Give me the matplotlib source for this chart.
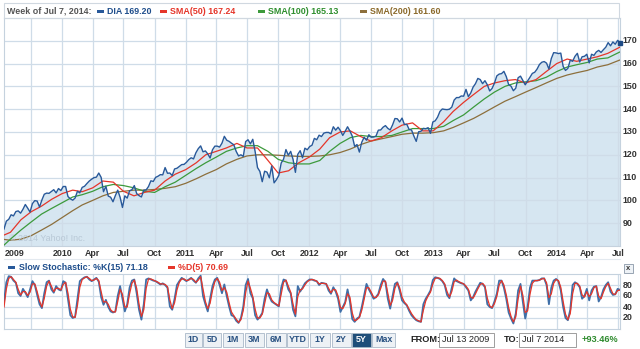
import matplotlib
matplotlib.use("Agg")
import matplotlib.pyplot as plt
import matplotlib.transforms as mtrans
import numpy as np
import pandas as pd
from matplotlib.patches import Rectangle

plt.rcParams['font.family'] = ['Liberation Sans', 'DejaVu Sans']

# ---------------- data ----------------
start_date = "2009-07-13"
dia = [
    87.46, 90.9, 91.7, 93.7, 93.2, 95.1, 95.4, 94.4, 96.1, 98.2, 96.6, 94.9, 98.6, 99.9, 99.7, 97.1,
    100.2, 102.7, 103.2, 103.1, 103.9, 104.7, 103.3, 105.2, 104.3,
    106.1, 106.1, 101.7, 100.7, 100.1, 101.0, 104.0, 103.3, 105.7, 106.2, 107.4, 108.5, 109.3,
    110.0, 110.2, 112.0, 110.1, 103.8, 106.2, 101.9, 101.4, 99.4, 102.1, 104.5, 101.4, 96.9,
    102.0, 101.0, 104.2, 104.7, 106.5, 103.0, 102.1, 101.5, 104.5, 104.6, 106.1, 108.6, 108.3,
    110.1, 110.6, 111.3, 111.2, 114.4, 111.9, 112.0, 110.9, 113.8, 114.1, 114.9, 115.7, 115.8,
    116.7, 117.9, 118.7, 118.2, 120.9, 122.7, 123.9, 121.3, 121.7, 120.4, 118.6, 122.2, 123.8,
    123.8, 123.4, 125.1, 128.1, 126.4, 125.9, 125.1, 124.4, 121.5, 119.5, 120.0, 119.3, 125.8,
    126.6, 124.8, 126.8, 121.4, 114.4, 112.7, 108.2, 112.8, 112.4, 109.9, 115.1, 107.7, 109.1,
    111.0, 116.4, 118.1, 122.3, 119.8, 121.5, 118.0, 112.3, 120.2, 121.8, 118.7, 122.9, 122.2,
    123.6, 124.2, 127.2, 126.6, 128.6, 128.0, 129.5, 129.8, 129.8, 129.2, 132.3, 130.8, 132.1,
    130.6, 128.5, 130.3, 132.3, 130.4, 128.2, 123.7, 124.5, 121.2, 125.5, 127.7, 126.4, 128.8,
    127.7, 127.8, 128.2, 130.8, 130.9, 132.1, 132.8, 131.6, 130.9, 133.1, 135.9, 135.8, 134.4,
    136.1, 133.3, 133.4, 131.1, 130.9, 128.2, 125.9, 130.1, 130.3, 131.6, 131.4, 131.9, 129.4,
    134.4, 134.9, 136.5, 139.0, 140.1, 139.9, 139.8, 140.0, 140.9, 144.0, 145.1, 145.1, 145.8,
    145.7, 148.7, 145.5, 147.1, 149.7, 151.2, 153.5, 153.0, 151.2, 152.5, 150.7, 148.0, 149.1,
    151.4, 154.6, 155.4, 155.6, 156.6, 154.3, 150.8, 150.1, 148.1, 149.2, 153.8, 154.5, 152.6,
    150.7, 152.4, 154.0, 155.7, 156.2, 157.6, 159.6, 160.6, 160.9, 160.2, 157.6, 162.2, 164.8,
    164.7, 164.4, 164.6, 158.8, 157.0, 157.9, 161.5, 161.0, 163.2, 164.5, 160.7, 163.0, 163.2,
    164.1, 160.3, 164.1, 163.6, 165.1, 165.8, 164.9, 166.1, 167.2, 169.2, 167.8, 169.5, 168.5,
    170.2, 169.2,
]

sma_dates = (["2009-07-13"] +
             [f"{y}-{m:02d}-01" for y in range(2009, 2015) for m in range(1, 13)
              if (y, m) > (2009, 7) and (y, m) <= (2014, 6)] +
             ["2014-07-07"])
sma50 = [84.8, 86.0, 91.5, 95.0, 97.5, 100.5,
         103.0, 104.5, 103.8, 105.5, 108.5, 108.0, 104.0, 102.0, 103.5, 104.5, 108.5, 111.5,
         113.5, 116.5, 120.0, 121.5, 123.0, 125.0, 123.0, 123.0, 117.5, 112.0, 113.0, 116.5,
         119.0, 122.5, 127.5, 130.0, 130.5, 128.0, 126.0, 127.5, 130.5, 133.0, 134.0, 130.5,
         130.5, 134.5, 139.0, 143.0, 146.5, 150.0, 151.5, 152.5, 153.0, 151.5, 153.0, 156.5,
         160.0, 162.0, 161.0, 162.0, 163.0, 164.5, 167.24]
sma100 = [80.4, 83.0, 87.0, 90.5, 94.0, 96.5,
          99.0, 101.5, 102.5, 104.0, 106.0, 107.0, 106.5, 105.5, 104.0, 103.5, 106.0, 108.0,
          111.0, 114.0, 116.5, 119.0, 121.5, 123.0, 124.0, 124.0, 121.5, 118.0, 116.5, 116.0,
          116.0, 117.5, 121.5, 125.0, 127.5, 128.5, 128.0, 128.0, 128.5, 130.0, 131.5, 131.5,
          131.5, 132.5, 135.0, 137.5, 141.0, 144.5, 147.5, 150.0, 151.5, 152.0, 152.5, 154.0,
          156.5, 158.5, 159.5, 160.5, 162.0, 162.5, 165.13]
sma200 = [82.9, 82.5, 83.0, 84.5, 87.0, 89.5,
          92.5, 95.5, 98.0, 100.0, 102.0, 103.5, 104.0, 104.5, 104.5, 104.8, 105.3, 106.0,
          107.5, 109.5, 111.5, 113.5, 116.0, 118.0, 119.5, 120.0, 120.0, 119.8, 119.5, 119.3,
          119.3, 119.5, 120.0, 121.0, 122.5, 124.5, 126.0, 127.0, 128.0, 129.0, 129.5, 129.5,
          129.7, 130.5, 132.0, 134.0, 136.0, 138.5, 141.0, 143.5, 145.5, 147.5, 149.5, 151.5,
          153.5, 155.0, 156.0, 157.0, 158.5, 159.5, 161.6]

# slow stochastic, weekly samples
stoch_k = [
    50, 85, 96, 95, 88, 84, 65, 60, 73, 66,
    58, 72, 87, 80, 62, 45, 38, 65, 85, 88,
    72, 66, 78, 72, 70, 87, 84, 55, 25, 20,
    22, 55, 87, 91, 94, 95, 90, 87, 90, 93,
    86, 58, 44, 53, 40, 32, 30, 32, 60, 78,
    55, 32, 45, 75, 88, 90, 65, 35, 17, 45,
    90, 92, 90, 88, 87, 84, 81, 83, 80, 75,
    41, 35, 55, 80, 87, 93, 90, 87, 90, 93,
    88, 84, 92, 97, 60, 45, 32, 55, 78, 90,
    93, 80, 65, 81, 60, 41, 25, 23, 15, 11,
    20, 41, 80, 91, 65, 56, 25, 17, 22, 29,
    55, 72, 59, 50, 47, 44, 41, 75, 90, 88,
    72, 65, 35, 23, 78, 68, 75, 83, 87, 90,
    90, 88, 87, 80, 84, 83, 82, 70, 64, 76,
    68, 55, 31, 40, 49, 72, 50, 18, 13, 19,
    22, 40, 61, 82, 72, 64, 55, 58, 64, 80,
    91, 85, 55, 37, 60, 82, 85, 70, 52, 47,
    43, 33, 25, 20, 16, 14, 13, 45, 55, 62,
    70, 89, 94, 93, 91, 87, 80, 62, 56, 75,
    92, 87, 85, 83, 82, 76, 70, 52, 58, 68,
    76, 84, 82, 76, 45, 40, 38, 50, 64, 88,
    88, 75, 55, 30, 19, 10, 28, 70, 82, 49,
    19, 40, 75, 88, 88, 88, 89, 92, 92, 80,
    45, 75, 88, 91, 87, 70, 40, 20, 16, 35,
    80, 85, 82, 76, 55, 60, 73, 52, 70, 77,
    78, 50, 58, 72, 80, 85, 68, 62, 63, 73,
    71.18,
]
stoch_d = [
    40, 73, 92, 95, 90, 85, 72, 62, 68, 68,
    61, 67, 82, 82, 68, 51, 40, 56, 78, 87,
    78, 68, 74, 74, 71, 81, 85, 65, 36, 22,
    21, 43, 76, 90, 93, 95, 92, 88, 89, 92,
    88, 68, 49, 50, 45, 35, 31, 31, 50, 72,
    63, 40, 40, 64, 83, 89, 74, 45, 23, 35,
    74, 91, 91, 89, 87, 85, 82, 82, 81, 77,
    53, 37, 48, 71, 85, 91, 91, 88, 89, 92,
    90, 85, 89, 95, 73, 50, 37, 47, 70, 86,
    92, 85, 70, 75, 67, 48, 31, 24, 18, 12,
    17, 34, 66, 87, 74, 59, 36, 20, 20, 27,
    46, 66, 64, 53, 48, 45, 42, 63, 85, 89,
    78, 67, 45, 27, 59, 71, 73, 80, 86, 89,
    90, 89, 87, 82, 83, 83, 82, 74, 66, 72,
    71, 60, 39, 37, 46, 64, 58, 29, 15, 17,
    21, 34, 54, 75, 75, 67, 58, 57, 62, 74,
    87, 87, 65, 43, 52, 74, 84, 75, 58, 49,
    44, 36, 28, 22, 17, 15, 13, 34, 51, 60,
    67, 82, 92, 93, 92, 88, 82, 68, 58, 68,
    86, 89, 86, 84, 82, 78, 72, 58, 56, 64,
    73, 81, 83, 78, 56, 42, 39, 46, 59, 80,
    88, 80, 62, 39, 23, 13, 22, 55, 78, 61,
    30, 33, 63, 83, 88, 88, 89, 91, 92, 84,
    57, 64, 83, 90, 88, 76, 50, 27, 17, 28,
    64, 83, 83, 78, 62, 58, 68, 59, 64, 75,
    78, 60, 55, 67, 77, 83, 74, 64, 63, 70,
    70.69,
]

xlabels = ["2010", "Apr", "Jul", "Oct", "2011", "Apr", "Jul", "Oct", "2012", "Apr", "Jul", "Oct",
           "2013", "Apr", "Jul", "Oct", "2014", "Apr", "Jul"]
main_yticks = [90, 100, 110, 120, 130, 140, 150, 160, 170]
stoch_yticks = [20, 40, 60, 80]

# ---------------- styling ----------------
W, H = 640, 349
BLUE = "#28599a"
RED = "#e5362a"
GREEN = "#3c9a3c"
BROWN = "#8c6f3c"
FILL = "#d6e6f1"
GRID = "#cfdce8"
TXT = "#333333"
FS = 6.4

def rect(x0, y0, x1, y1):
    return [x0 / W, 1 - y1 / H, (x1 - x0) / W, (y1 - y0) / H]

def fy(y):
    return 1 - y / H

fig = plt.figure(figsize=(W / 100, H / 100), dpi=100)
fig.patch.set_facecolor("white")

dates = pd.date_range(start_date, periods=len(dia), freq="7D")
kdates = pd.date_range(start_date, periods=len(stoch_k), freq="7D")
ddates = pd.date_range(start_date, periods=len(stoch_d), freq="7D")
sdates = pd.to_datetime(sma_dates)
x0d, x1d = dates[0], dates[-1]
quarters = pd.date_range("2009-10-01", "2014-07-01", freq="QS")
label_dates = pd.date_range("2010-01-01", "2014-07-01", freq="QS")

# header frame
fig.patches.append(Rectangle((4 / W, fy(18)), 615 / W, 15 / H, transform=fig.transFigure,
                             fill=False, edgecolor="#d0d8e0", lw=0.8))

# ---------------- main chart ----------------
ax = fig.add_axes(rect(4, 18, 620, 246))
ax.set_xlim(x0d, x1d)
ax.set_ylim(80, 180)
ax.fill_between(dates, dia, 80, color=FILL, lw=0, zorder=1)
for q in quarters:
    ax.axvline(q, color=GRID, lw=0.9, zorder=2)
for yv in range(90, 180, 10):
    ax.axhline(yv, color=GRID, lw=0.9, zorder=2)
ax.plot(sdates, sma200, color=BROWN, lw=0.9, zorder=3)
ax.plot(sdates, sma100, color=GREEN, lw=0.9, zorder=4)
ax.plot(sdates, sma50, color=RED, lw=0.9, zorder=5)
ax.plot(dates, dia, color=BLUE, lw=1.0, zorder=6)
ax.plot(dates[-1:], dia[-1:], marker="s", ms=3.2, color="#1d4a85", zorder=7, clip_on=False)
ax.set_xticks([])
ax.set_yticks([])
for s in ax.spines.values():
    s.set_color("#c5d2de")
    s.set_linewidth(0.8)
ax.text(0.008, 0.012, "© 2014 Yahoo! Inc.", transform=ax.transAxes, fontsize=FS,
        color="#b8c8d6", ha="left", va="bottom")

for yv in main_yticks:
    ax.text(1.004, (yv - 80) / 100, str(yv), transform=ax.transAxes, fontsize=FS,
            fontweight="bold", color=TXT, ha="left", va="center", clip_on=False)

# x labels (band under the main chart)
tr = mtrans.blended_transform_factory(ax.transData, fig.transFigure)
for d, lab in zip(label_dates, xlabels):
    ax.text(d, fy(253), lab, transform=tr, fontsize=FS, fontweight="bold", color=TXT,
            ha="center", va="center", clip_on=False)
fig.text(5 / W, fy(253), "2009", fontsize=FS, fontweight="bold", color=TXT,
         ha="left", va="center")
fig.lines.append(plt.Line2D([4 / W, 620 / W], [fy(259), fy(259)], transform=fig.transFigure,
                            color="#e3e9ef", lw=0.8))

# header legend
hy = fy(11)
fig.text(7 / W, hy, "Week of Jul 7, 2014:", fontsize=FS, fontweight="bold", color="#555555",
         va="center", ha="left")
items = [(97, BLUE, "DIA 169.20", "#1f4e8c"), (160, RED, "SMA(50) 167.24", RED),
         (258, GREEN, "SMA(100) 165.13", "#2f8f2f"), (360, BROWN, "SMA(200) 161.60", "#8b6a2b")]
for xp, col, lab, tcol in items:
    fig.patches.append(Rectangle((xp / W, fy(12.5)), 7 / W, 3 / H,
                                 transform=fig.transFigure, color=col, lw=0))
    fig.text((xp + 10) / W, hy, lab, fontsize=FS, fontweight="bold", color=tcol,
             va="center", ha="left")

# ---------------- stochastic ----------------
ax2 = fig.add_axes(rect(4, 274, 620, 329))
ax2.set_xlim(x0d, x1d)
ax2.set_ylim(0, 100)
for q in quarters:
    ax2.axvline(q, color=GRID, lw=0.9, zorder=1)
for yv in stoch_yticks:
    ax2.axhline(yv, color=GRID, lw=0.9, zorder=1)
ax2.plot(kdates, stoch_k, color="#3f6fa8", lw=1.3, zorder=3)
ax2.plot(ddates, stoch_d, color=RED, lw=0.9, zorder=4)
ax2.set_xticks([])
ax2.set_yticks([])
for s in ax2.spines.values():
    s.set_color("#c5d2de")
    s.set_linewidth(0.8)
for yv in stoch_yticks:
    ax2.text(1.004, yv / 100, str(yv), transform=ax2.transAxes, fontsize=FS,
             fontweight="bold", color=TXT, ha="left", va="center", clip_on=False)

ly = fy(267)
fig.patches.append(Rectangle((8 / W, fy(268.5)), 7 / W, 3 / H, transform=fig.transFigure,
                             color=BLUE, lw=0))
fig.text(19 / W, ly, "Slow Stochastic: %K(15) 71.18", fontsize=FS, fontweight="bold",
         color="#1f4e8c", va="center", ha="left")
fig.patches.append(Rectangle((168 / W, fy(268.5)), 7 / W, 3 / H, transform=fig.transFigure,
                             color=RED, lw=0))
fig.text(178 / W, ly, "%D(5) 70.69", fontsize=FS, fontweight="bold", color=RED,
         va="center", ha="left")
fig.patches.append(Rectangle((624 / W, fy(273)), 9 / W, 9 / H, transform=fig.transFigure,
                             facecolor="#eef2f6", edgecolor="#8a98a8", lw=0.6))
fig.text(628.5 / W, fy(268.7), "x", fontsize=5.5, fontweight="bold", color="#333",
         ha="center", va="center")

# ---------------- buttons ----------------
buttons = ["1D", "5D", "1M", "3M", "6M", "YTD", "1Y", "2Y", "5Y", "Max"]
bx = [185, 203, 223, 245, 266, 287, 310, 332, 352, 372]
bw = [17, 18, 20, 19, 20, 21, 20, 19, 19, 23]
for lab, xx, ww in zip(buttons, bx, bw):
    sel = lab == "5Y"
    fig.patches.append(Rectangle((xx / W, fy(347)), ww / W, 14 / H, transform=fig.transFigure,
                                 facecolor="#1f4e79" if sel else "#edf1f5",
                                 edgecolor="#a9b8c8", lw=0.6))
    fig.text((xx + ww / 2) / W, fy(340), lab, fontsize=FS, fontweight="bold",
             color="white" if sel else "#2a5282", ha="center", va="center")

fig.text(410 / W, fy(340), "FROM:", fontsize=6.6, fontweight="bold", color="#222",
         ha="left", va="center")
fig.patches.append(Rectangle((439 / W, fy(347)), 55 / W, 14 / H, transform=fig.transFigure,
                             facecolor="white", edgecolor="#8e8e8e", lw=0.6))
fig.text(442 / W, fy(340), "Jul 13 2009", fontsize=6.6, color="#222", ha="left", va="center")
fig.text(504 / W, fy(340), "TO:", fontsize=6.6, fontweight="bold", color="#222",
         ha="left", va="center")
fig.patches.append(Rectangle((519 / W, fy(347)), 57 / W, 14 / H, transform=fig.transFigure,
                             facecolor="white", edgecolor="#8e8e8e", lw=0.6))
fig.text(522 / W, fy(340), "Jul 7 2014", fontsize=6.6, color="#222", ha="left", va="center")
fig.text(618 / W, fy(340), "+93.46%", fontsize=6.6, fontweight="bold", color="#2e8b2e",
         ha="right", va="center")

fig.savefig("out.png", dpi=100, facecolor="white")
